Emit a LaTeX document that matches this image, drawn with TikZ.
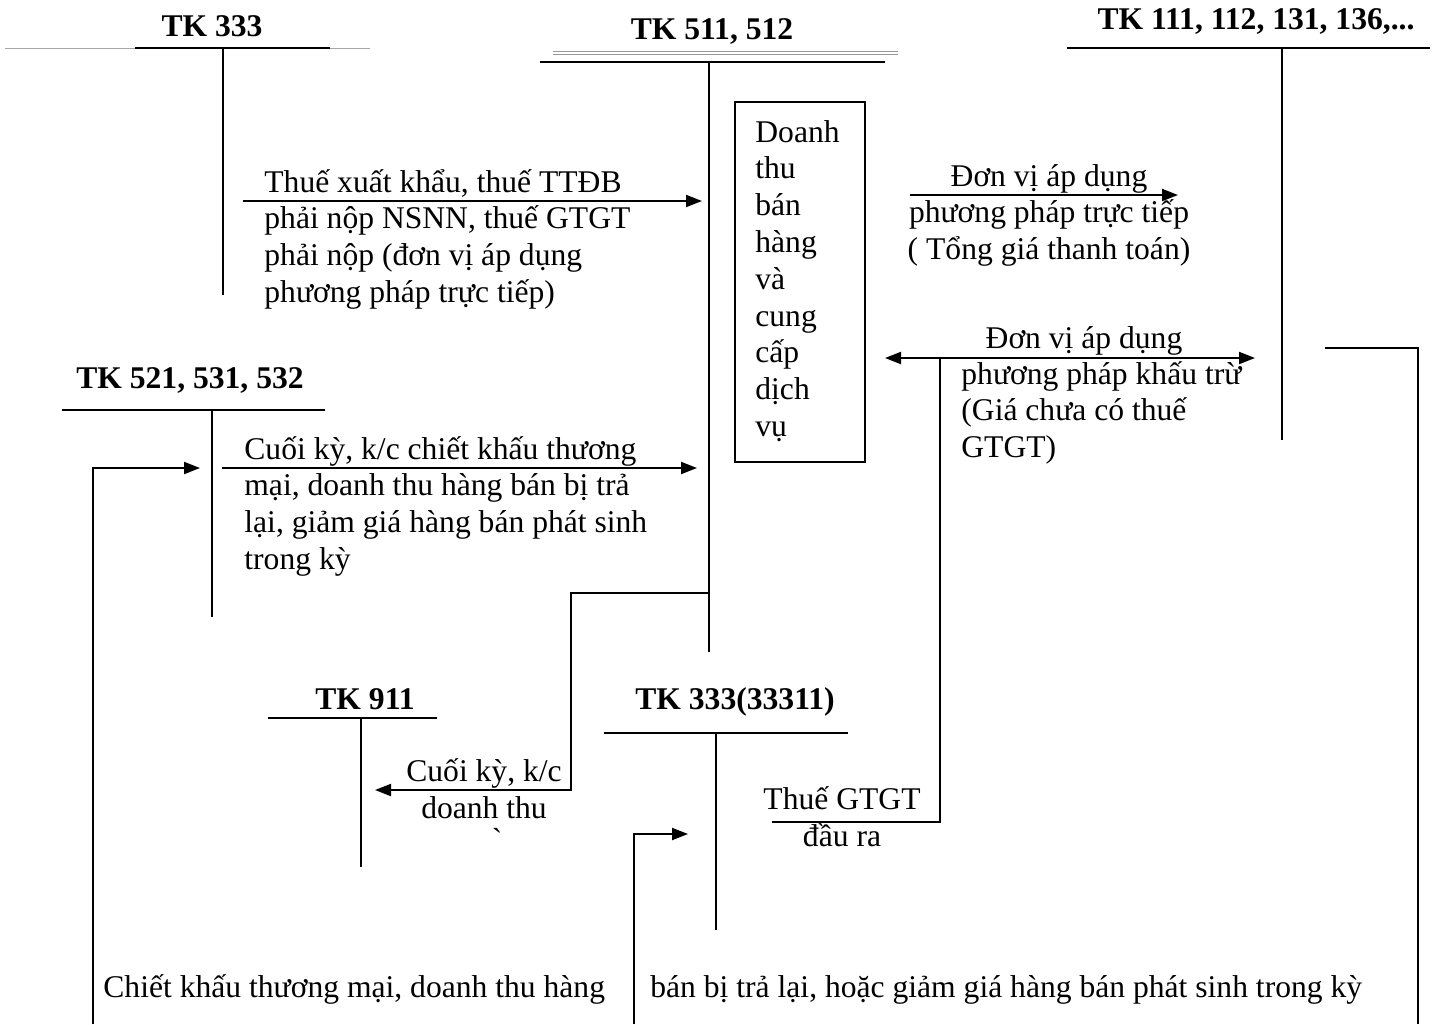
\documentclass[tikz,border=0pt]{standalone}
\usepackage{fontspec}
\setmainfont{Liberation Serif}
\usetikzlibrary{arrows.meta}
\begin{document}
\begin{tikzpicture}[x=0.5pt,y=-0.5pt,
  every node/.style={inner sep=0pt, font=\fontsize{15.8}{18.4}\selectfont},
  ttl/.style={font=\fontsize{15.8}{18.4}\selectfont\bfseries, anchor=base},
  txt/.style={align=left, anchor=base west},
  ctxt/.style={align=center, anchor=base},
  acc/.style={line width=1.3pt},
  ln/.style={line width=1pt},
  faint/.style={line width=0.5pt, draw=black!35},
  arr/.style={line width=1pt, -{Triangle[length=8pt,width=6pt]}},
  darr/.style={line width=1pt, {Triangle[length=8pt,width=6pt]}-{Triangle[length=8pt,width=6pt]}},
]
\useasboundingbox (0,0) rectangle (1434,1024);

% ---------- titles ----------
\node[ttl] (t333) at (212,36) {TK 333};
\node[ttl] (t511) at (712,39) {TK 511, 512};
\node[ttl] (t111) at (1256,29) {TK 111, 112, 131, 136,...};
\node[ttl] (t521) at (190,388) {TK 521, 531, 532};
\node[ttl] (t911) at (365,709) {TK 911};
\node[ttl] (t33311) at (735,709) {TK 333(33311)};

% ---------- T-account coordinates ----------
\coordinate (a333l) at (135,48);  \coordinate (a333r) at (330,48);
\coordinate (a333t) at (223,48);  \coordinate (a333b) at (223,295);
\coordinate (g333l) at (5,48);    \coordinate (g333r) at (370,48);

\coordinate (a511l) at (540,62);  \coordinate (a511r) at (885,62);
\coordinate (a511t) at (709,62);  \coordinate (a511b) at (709,652);
\coordinate (g511l) at (553,53);  \coordinate (g511r) at (898,53);

\coordinate (a111l) at (1067,48); \coordinate (a111r) at (1430,48);
\coordinate (a111t) at (1282,48); \coordinate (a111b) at (1282,440);

\coordinate (a521l) at (62,410);  \coordinate (a521r) at (325,410);
\coordinate (a521t) at (212,410); \coordinate (a521b) at (212,617);

\coordinate (a911l) at (268,718); \coordinate (a911r) at (437,718);
\coordinate (a911t) at (361,718); \coordinate (a911b) at (361,867);

\coordinate (aVl) at (604,733);   \coordinate (aVr) at (848,733);
\coordinate (aVt) at (716,733);   \coordinate (aVb) at (716,930);

% faint lines
\draw[faint] (g333l) -- (g333r);
\draw[line width=0.5pt, draw=black!40, double=white, double distance=0.8pt] (g511l) -- (g511r);

% T-account lines
\draw[acc] (a333l) -- (a333r);  \draw[ln] (a333t) -- (a333b);
\draw[acc] (a511l) -- (a511r);  \draw[ln] (a511t) -- (a511b);
\draw[acc] (a111l) -- (a111r);  \draw[ln] (a111t) -- (a111b);
\draw[ln] (a521l) -- (a521r);   \draw[ln] (a521t) -- (a521b);
\draw[ln] (a911l) -- (a911r);   \draw[ln] (a911t) -- (a911b);
\draw[ln] (aVl) -- (aVr);       \draw[ln] (aVt) -- (aVb);

% ---------- box ----------
\node[draw, line width=1pt, minimum width=65pt, minimum height=180pt] (box) at (800,282) {};
% multi-line nodes: base anchor = baseline of last line (line step 36.8)
\node[txt] (boxtxt) at (755,436.4) {Doanh\\thu\\bán\\hàng\\và\\cung\\cấp\\dịch\\vụ};

% ---------- texts ----------
\node[txt] (x1) at (264,302.4) {Thuế xuất khẩu, thuế TTĐB\\phải nộp NSNN, thuế GTGT\\phải nộp (đơn vị áp dụng\\phương pháp trực tiếp)};
\node[ctxt] (x2) at (1049,259.6) {Đơn vị áp dụng\\phương pháp trực tiếp\\( Tổng giá thanh toán)};
\node[ctxt] (x3a) at (1084,348) {Đơn vị áp dụng};
\node[txt] (x3b) at (961,457.6) {phương pháp khấu trừ\\(Giá chưa có thuế\\GTGT)};
\node[txt] (x4) at (244,569.4) {Cuối kỳ, k/c chiết khấu thương\\mại, doanh thu hàng bán bị trả\\lại, giảm giá hàng bán phát sinh\\trong kỳ};
\node[ctxt] (x5) at (484,818) {Cuối kỳ, k/c\\doanh thu};
\node[ctxt] (x5g) at (498,856) {\`{}};
\node[ctxt] (x6) at (842,846) {Thuế GTGT\\đầu ra};
\node[txt] (x7) at (103,997) {Chiết khấu thương mại, doanh thu hàng};
\node[txt] (x8) at (650,997) {bán bị trả lại, hoặc giảm giá hàng bán phát sinh trong kỳ};

% ---------- connectors ----------
\coordinate (c1s) at (243,201); \coordinate (c1e) at (702,201);
\draw[arr] (c1s) -- (c1e);

\coordinate (c2s) at (910,195); \coordinate (c2e) at (1178,195);
\draw[arr] (c2s) -- (c2e);

\coordinate (c3l) at (885,358); \coordinate (c3r) at (1255,358);
\draw[darr] (c3l) -- (c3r);
\coordinate (c3j) at (940,358); \coordinate (c3b) at (940,822); \coordinate (c3e) at (772,822);
\draw[ln] (c3j) -- (c3b) -- (c3e);

\coordinate (c4a) at (1325,348); \coordinate (c4b) at (1418,348); \coordinate (c4c) at (1418,1024);
\draw[ln] (c4a) -- (c4b) -- (c4c);

\coordinate (c5a) at (93,1024); \coordinate (c5b) at (93,468); \coordinate (c5e) at (200,468);
\draw[arr] (c5a) -- (c5b) -- (c5e);

\coordinate (c6s) at (222,468); \coordinate (c6e) at (697,468);
\draw[arr] (c6s) -- (c6e);

\coordinate (c7a) at (709,593); \coordinate (c7b) at (571,593); \coordinate (c7c) at (571,790); \coordinate (c7e) at (375,790);
\draw[arr] (c7a) -- (c7b) -- (c7c) -- (c7e);

\coordinate (c8a) at (634,1024); \coordinate (c8b) at (634,834); \coordinate (c8e) at (688,834);
\draw[arr] (c8a) -- (c8b) -- (c8e);

\end{tikzpicture}
\end{document}
